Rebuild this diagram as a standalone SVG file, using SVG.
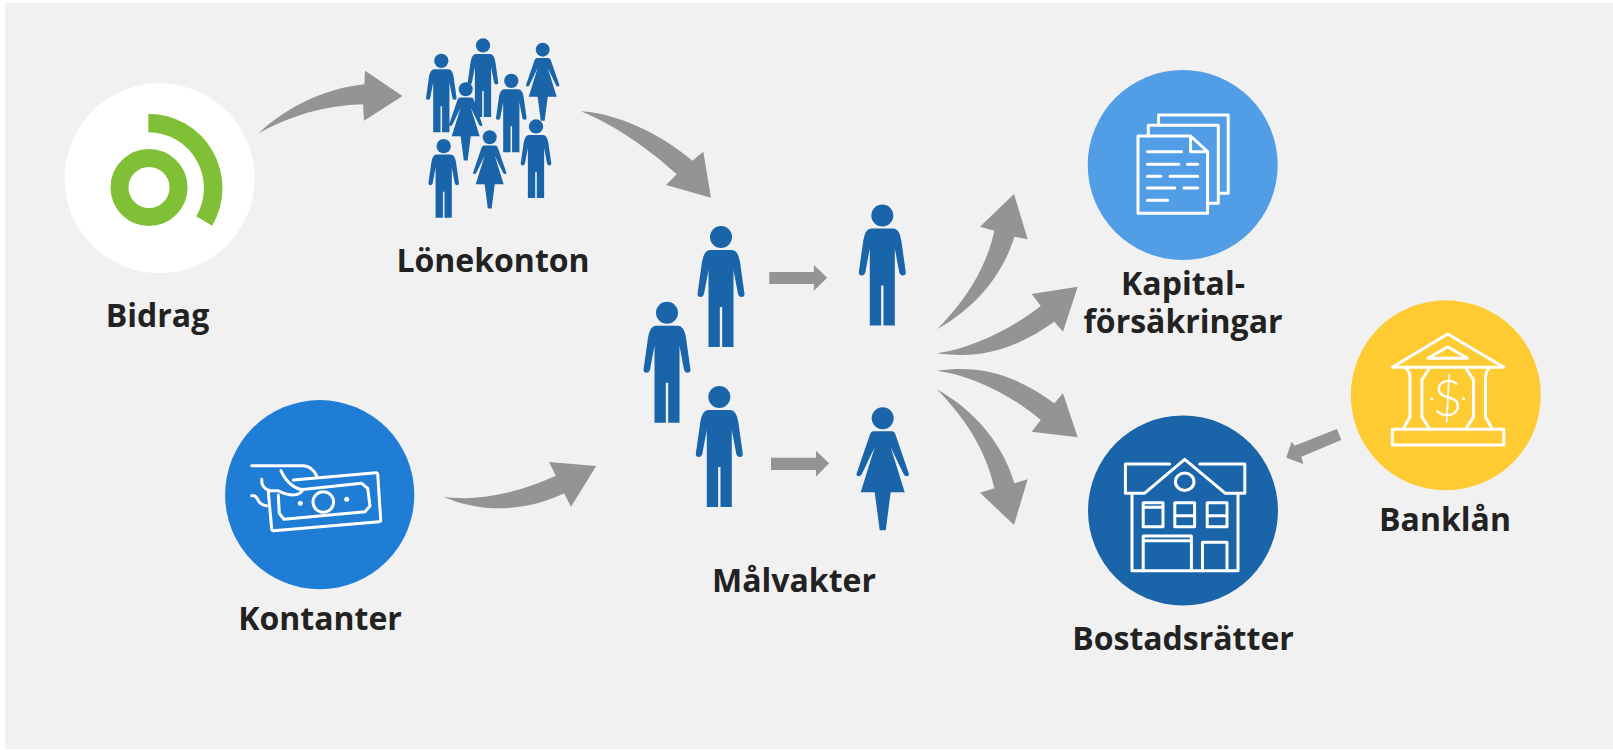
<svg xmlns="http://www.w3.org/2000/svg" xmlns:xlink="http://www.w3.org/1999/xlink" width="1613" height="750" viewBox="0 0 1613 750">
<style>
.lbl{font-family:"Open Sans","Noto Sans","Liberation Sans",sans-serif;font-weight:700;font-size:32px;fill:#222222;text-anchor:middle}
.arr{fill:#949494}
.ic{fill:none;stroke:#ffffff;stroke-width:3;stroke-linecap:round;stroke-linejoin:round}
.dot{fill:#ffffff}
.fig{fill:#1a64a9}
</style>
<defs>
<g id="man"><ellipse cx="0" cy="11" rx="11" ry="11"/><path d="M-11,24H11Q17,24 19,36L23.5,68Q23.5,71 20.5,71Q18,71 17,68L12.5,44V121H1.2V81H-1.2V121H-12.5V44L-17,68Q-18,71 -20.5,71Q-23.5,71 -23.5,68L-19,36Q-17,24 -11,24Z"/></g>
<g id="woman"><ellipse cx="0" cy="11" rx="11" ry="11"/><path d="M-9,24H9Q12,24 13,28L26,66Q27,69 24,69Q22,69 21,67L8,40L22,85H8L3,123H-3L-8,85H-22L-8,40L-21,67Q-22,69 -24,69Q-27,69 -26,66L-13,28Q-12,24 -9,24Z"/></g>
</defs>
<rect x="0" y="0" width="1613" height="750" fill="#ffffff"/>
<rect x="5" y="3" width="1608" height="746" fill="#f1f1f1"/>

<g id="connectors">
<path class="arr" d="M258.6,133.3C285,108 325,88 364.3,84.3L365,70.7L402.5,96L364,120.7L363,104.3C325,105 290,116 258.6,133.3Z"/>
<path class="arr" d="M581,111.3C615,113 660,133 692.3,160.7L703.3,151.7L711,197.7L666,185L676.7,174.3C650,150 615,125 581,111.3Z"/>
<path class="arr" d="M443.3,496.7C480,502 520,492 555.8,475.7L549,462L596.2,466L571,506.7L564,493.3C530,510 485,515 443.3,496.7Z"/>
<path class="arr" d="M769.3,272H813.9V265L827.2,277.7L813.9,290.7V284H769.3Z"/>
<path class="arr" d="M771,457.7H816V450.7L829,463.3L816,476.7V470H771Z"/>
<path class="arr" d="M937,329.3C958,308 985,275 994.3,230.7L980,226.7L1014,194L1027.7,239.3L1014.3,236.7C1003,275 975,308 937,329.3Z"/>
<path class="arr" d="M937,353.3C970,349 1010,330 1040.7,306L1031.7,294L1077.7,286.7L1063,331.7L1054.3,321.7C1020,346 985,360 937,353.3Z"/>
<path class="arr" d="M937,370.7C970,375 1010,394 1040.7,420L1031.7,431.7L1077.7,437.3L1063,393.3L1054.3,403.3C1020,378 985,364 937,370.7Z"/>
<path class="arr" d="M937,389.3C958,411 985,444 994.3,488.3L980,492.7L1014,525L1027.7,479.3L1014.3,483.3C1003,444 975,411 937,389.3Z"/>
<path class="arr" d="M1336.9,429L1341.3,440L1301.4,456.7L1303.3,464L1286.3,457.7L1291.5,441.7L1294.6,445.7Z"/>
</g>

<g id="bidrag">
<circle cx="159.6" cy="178.3" r="95" fill="#ffffff"/>
<circle cx="149" cy="187.5" r="29.5" fill="none" stroke="#7fc036" stroke-width="18"/>
<path d="M148.3,123A65,65 0 0 1 204.2,221" fill="none" stroke="#7fc036" stroke-width="18.5"/>
<text class="lbl" x="157.5" y="327">Bidrag</text>
</g>

<g id="lonekonton" class="fig">
<use xlink:href="#man" href="#man" transform="translate(483,38.3) scale(.65)"/>
<use xlink:href="#man" href="#man" transform="translate(441.3,53.7) scale(.65)"/>
<use xlink:href="#woman" href="#woman" transform="translate(542.7,42.7) scale(.635)"/>
<use xlink:href="#man" href="#man" transform="translate(511.3,73.7) scale(.65)"/>
<use xlink:href="#woman" href="#woman" transform="translate(465.7,82.3) scale(.635)"/>
<use xlink:href="#man" href="#man" transform="translate(536,119.3) scale(.65)"/>
<use xlink:href="#man" href="#man" transform="translate(443.7,139) scale(.65)"/>
<use xlink:href="#woman" href="#woman" transform="translate(489.7,130.3) scale(.635)"/>
<text class="lbl" x="493" y="272">Lönekonton</text>
</g>

<g id="kontanter">
<circle cx="319.7" cy="494.7" r="94.6" fill="#1f7dd6"/>
<path class="ic" d="M293.3,480L376,472.7Q377.5,472.7 377.7,474L380.7,520Q380.7,521.7 379,521.8L273.5,530.7Q272,530.7 271.7,529L268.3,491.7"/>
<path class="ic" d="M305,489.3L361.7,483.3L367.7,488.3L370,506L365,511.7L284,519.3L279.3,513.3L278.3,495"/>
<circle class="ic" cx="323.3" cy="502" r="10.3"/>
<circle class="dot" cx="300.3" cy="503.3" r="2.5"/>
<circle class="dot" cx="346.7" cy="499.3" r="2.5"/>
<path class="ic" d="M251.7,465.7H303.3Q312,466 316.7,476"/>
<path class="ic" d="M281,470.7Q285,480 291.7,485T303.3,489.3Q300,495 293,495T278.3,490.7H270Q261,488 261.7,479.3"/>
<path class="ic" d="M251.7,495.7Q256,495 258,500T266.7,505.7"/>
<text class="lbl" x="320" y="629.5">Kontanter</text>
</g>

<g id="malvakter" class="fig">
<use xlink:href="#man" href="#man" transform="translate(721,226)"/>
<use xlink:href="#man" href="#man" transform="translate(667,301.7)"/>
<use xlink:href="#man" href="#man" transform="translate(719.3,386)"/>
<use xlink:href="#man" href="#man" transform="translate(882.3,204.5)"/>
<use xlink:href="#woman" href="#woman" transform="translate(882.7,407.3)"/>
<text class="lbl" x="794" y="591.5">Målvakter</text>
</g>

<g id="kapital">
<circle cx="1182.7" cy="165" r="95" fill="#519de6"/>
<path class="ic" d="M1158.6,125V115H1228.2V193.3H1218.3"/>
<path class="ic" d="M1148.3,136V125.3H1218.3V203.3H1207.6"/>
<path class="ic" d="M1190.6,136H1138V213.3H1207.6V151.7L1190.6,136V151.7H1207.6"/>
<path class="ic" d="M1147.5,151.7H1181.5M1147.5,164.3H1178.8M1187.5,164.3H1197.7M1147.5,176.3H1161M1170,176.3H1197.7M1147.5,188H1174.8M1184,188H1197.7M1147.5,200.3H1167.7"/>
<text class="lbl" x="1183" y="295">Kapital-</text>
<text class="lbl" x="1183" y="333">försäkringar</text>
</g>

<g id="bostadsratter">
<circle cx="1183" cy="510.5" r="95" fill="#1a64a9"/>
<path class="ic" d="M1169.7,464H1125.4V493.3H1144.4L1184.7,459.3L1225.4,493.3H1244.8V464H1199.7"/>
<path class="ic" d="M1132,493.3V570.7H1238V493.3"/>
<ellipse class="ic" cx="1184.7" cy="481.7" rx="9.3" ry="8.7"/>
<path class="ic" d="M1143.2,502.7H1163V526.7H1143.2ZM1143.2,507.3H1163"/>
<path class="ic" d="M1174.8,502.7H1194.6V526.7H1174.8ZM1174.8,515.7H1194.6"/>
<path class="ic" d="M1207.2,502.7H1227V526.7H1207.2ZM1207.2,515.7H1227"/>
<path class="ic" d="M1143.2,570.7V536H1191.4V570.7M1143.2,540.7H1191.4"/>
<path class="ic" d="M1202.5,570.7V542.3H1227V570.7"/>
<text class="lbl" x="1183" y="650">Bostadsrätter</text>
</g>

<g id="banklan">
<circle cx="1445.8" cy="395.3" r="95" fill="#ffcb33"/>
<path class="ic" d="M1392.3,367.3L1447.7,334L1503.8,367.3Z"/>
<path class="ic" d="M1447.7,346.7L1427.9,358.3H1467.4Z"/>
<path class="ic" d="M1406,368Q1410,372 1410,378V416.7L1403,429.3M1429,369L1421.9,380V416.7L1429.8,429.3"/>
<path class="ic" d="M1489.4,368Q1485.4,372 1485.4,378V416.7L1492.4,429.3M1466.4,369L1473.5,380V416.7L1465.6,429.3"/>
<path class="ic" d="M1392.3,429.3H1503.8V445H1392.3Z"/>
<text x="1447.7" y="416" font-family="Lato,'Open Sans',sans-serif" font-weight="300" font-size="52" fill="#ffffff" text-anchor="middle">$</text>
<circle class="dot" cx="1431.8" cy="398.7" r="1.5"/>
<circle class="dot" cx="1463.5" cy="398.7" r="1.5"/>
<text class="lbl" x="1445" y="530.7">Banklån</text>
</g>
</svg>
